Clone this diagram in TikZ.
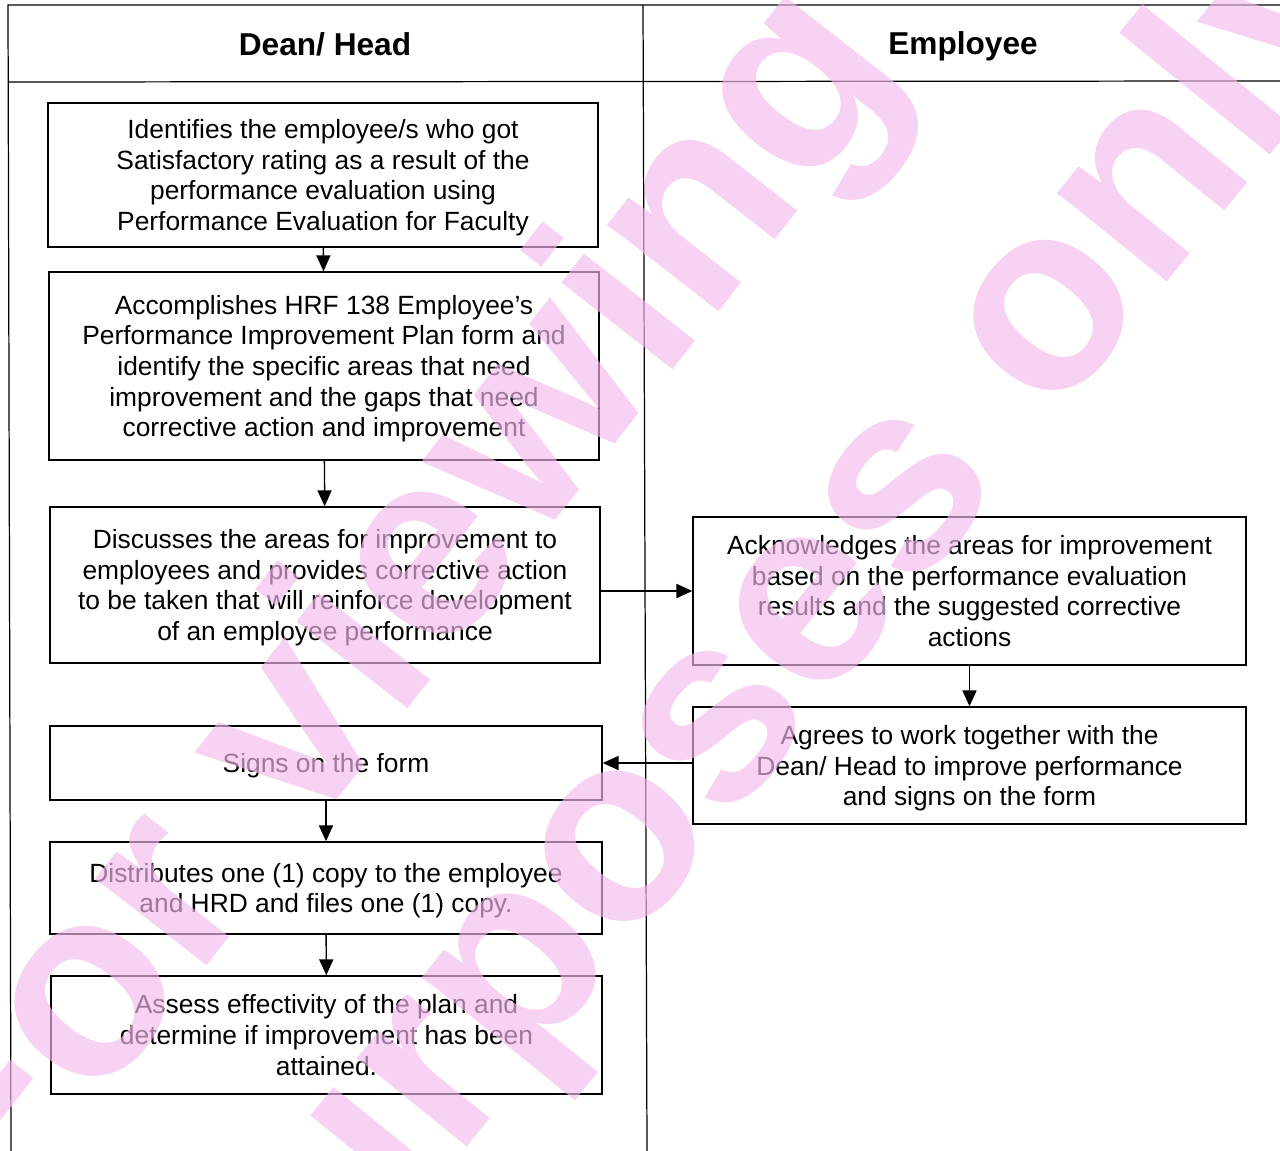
\documentclass[tikz,border=0pt]{standalone}
\usepackage{fontspec}
\setmainfont{Liberation Sans}
\usetikzlibrary{arrows.meta}
\definecolor{wmpink}{RGB}{243,186,236}

\begin{document}
\begin{tikzpicture}[x=0.02cm,y=-0.02cm,
  box/.style={draw,line width=0.9pt,align=center,inner sep=0pt,text depth=-1pt,
    font=\fontsize{15}{17.4}\selectfont},
  lanehd/.style={font=\bfseries\fontsize{18}{20}\selectfont},
  lane/.style={line width=0.7pt},
  wmark/.style={anchor=base west,text=wmpink,opacity=0.65,font=\bfseries\fontsize{152}{152}\selectfont},
  >={Triangle[length=9pt,width=8pt]}]
  \useasboundingbox (0,0) rectangle (1280,1151);
  % swimlanes
  \draw[lane] (1280,5) -- (8,5) -- (11,1151);
  \draw[lane] (8,82) -- (1280,81);
  \draw[lane] (643,5) -- (647,1151);
  \node[lanehd] (deanhd) at (325,44) {Dean/ Head};
  \node[lanehd] (emphd) at (963,46) {Employee};

  % Dean/ Head lane
  \node[box,minimum width=11cm,minimum height=2.88cm] (ident) at (323,175)
    {Identifies the employee/s who got\\ Satisfactory rating as a result of the\\
     performance evaluation using\\ Performance Evaluation for Faculty};
  \node[box,minimum width=11cm,minimum height=3.76cm] (accomp) at (324,366)
    {Accomplishes HRF 138 Employee's\\ Performance Improvement Plan form and\\
     identify the specific areas that need\\ improvement and the gaps that need\\
     corrective action and improvement};
  \node[box,minimum width=11cm,minimum height=3.12cm] (discuss) at (325,585)
    {Discusses the areas for improvement to\\ employees and provides corrective action\\
     to be taken that will reinforce development\\ of an employee performance};
  \node[box,minimum width=11.04cm,minimum height=1.48cm] (signs) at (326,763)
    {Signs on the form};
  \node[box,minimum width=11.04cm,minimum height=1.84cm] (distr) at (326,888)
    {Distributes one (1) copy to the employee\\ and HRD and files one (1) copy.};
  \node[box,minimum width=11.02cm,minimum height=2.36cm] (assess) at (326.5,1035)
    {Assess effectivity of the plan and\\ determine if improvement has been\\ attained.};

  % Employee lane
  \node[box,minimum width=11.06cm,minimum height=2.96cm] (ackn) at (969.5,591)
    {Acknowledges the areas for improvement\\ based on the performance evaluation\\
     results and the suggested corrective\\ actions};
  \node[box,minimum width=11.06cm,minimum height=2.34cm] (agree) at (969.5,765.5)
    {Agrees to work together with the\\ Dean/ Head to improve performance\\ and signs on the form};

  \path[->,line width=0.8pt]
    (ident) edge (accomp)
    (accomp) edge (discuss)
    (ackn.west -| discuss.east) edge (ackn.west)
    (ackn) edge (agree)
    (agree.west |- signs.east) edge (signs.east)
    (signs) edge (distr)
    (distr) edge (assess);

  % watermark
  \begin{scope}
    \clip (0,0) rectangle (1280,1151);
    \node[wmark,rotate=52] (wmfor) at (-9,1243) {For viewing};
    \node[wmark,rotate=51] (wmpurp) at (246,1420) {purposes only};
  \end{scope}
\end{tikzpicture}
\end{document}
